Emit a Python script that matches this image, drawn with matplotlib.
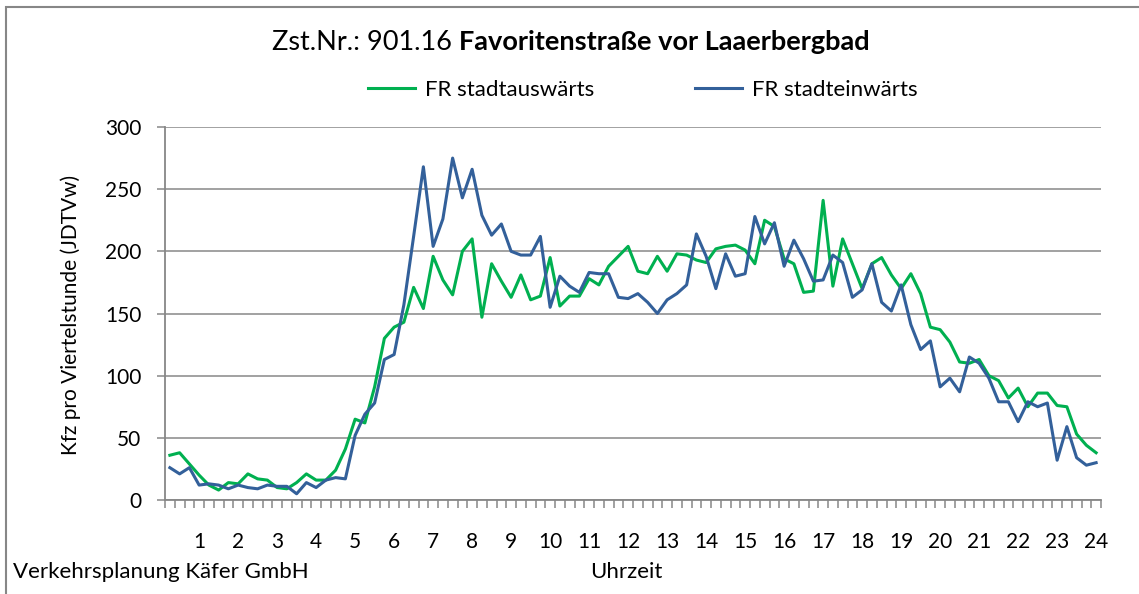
import matplotlib
matplotlib.use("Agg")
import matplotlib.pyplot as plt
from matplotlib.patches import Rectangle

plt.rcParams['font.family'] = ['Lato', 'DejaVu Sans']

# ---- data (Kfz pro Viertelstunde, 96 quarter hours 00:15 .. 24:00) ----
stadtauswaerts = [36, 38, 29, 20, 12, 8, 14, 13, 21, 17, 16, 10, 9, 14, 21, 16,
                  16, 24, 41, 65, 62, 91, 130, 139, 143, 171, 154, 196, 177, 165, 200, 210,
                  147, 190, 176, 163, 181, 161, 164, 195, 156, 164, 164, 178, 173, 188, 196, 204,
                  184, 182, 196, 184, 198, 197, 193, 191, 202, 204, 205, 201, 190, 225, 220, 194,
                  190, 167, 168, 241, 172, 210, 190, 170, 190, 195, 181, 170, 182, 166, 139, 137,
                  127, 111, 110, 113, 100, 96, 82, 90, 75, 86, 86, 76, 75, 53, 44, 38]
stadteinwaerts = [26, 21, 26, 12, 13, 12, 9, 12, 10, 9, 12, 11, 11, 5, 14, 10,
                  16, 18, 17, 52, 69, 78, 113, 117, 157, 212, 268, 204, 226, 275, 243, 266,
                  229, 213, 222, 200, 197, 197, 212, 155, 180, 172, 167, 183, 182, 182, 163, 162,
                  166, 159, 150, 161, 166, 173, 214, 196, 170, 198, 180, 182, 228, 206, 223, 188,
                  209, 194, 176, 177, 197, 191, 163, 169, 190, 159, 152, 173, 141, 121, 128, 91,
                  98, 87, 115, 110, 98, 79, 79, 63, 79, 75, 78, 32, 59, 34, 28, 30]
hour_labels = ['1', '2', '3', '4', '5', '6', '7', '8', '9', '10', '11', '12',
               '13', '14', '15', '16', '17', '18', '19', '20', '21', '22', '23', '24']
series_names = ['FR stadtauswärts', 'FR stadteinwärts']
y_ticks = [0, 50, 100, 150, 200, 250, 300]

GREEN = '#00B050'
BLUE = '#33609A'
GRAY = '#878787'

W, H = 1139, 594
fig = plt.figure(figsize=(W / 100, H / 100), dpi=100)


def fx(x):
    return x / W


def fy(y):
    return 1 - y / H


ax = fig.add_axes([fx(165), fy(500), (1101 - 165) / W, (500 - 127) / H])
n = len(stadtauswaerts)
xs = list(range(n))
l1, = ax.plot(xs, stadtauswaerts, color=GREEN, lw=2.2, label=series_names[0])
l2, = ax.plot(xs, stadteinwaerts, color=BLUE, lw=2.2, label=series_names[1])

ax.set_xlim(-0.5, n - 0.5)
ax.set_ylim(0, 300)
ax.set_yticks(y_ticks)
ax.yaxis.grid(True, color=GRAY, lw=1.1)
ax.set_axisbelow(True)
for s in ['top', 'right']:
    ax.spines[s].set_visible(False)
for s in ['left', 'bottom']:
    ax.spines[s].set_color(GRAY)
    ax.spines[s].set_linewidth(1.3)

ax.set_xticks([i * 4 + 3 for i in range(len(hour_labels))], labels=hour_labels)
ax.set_xticks([i - 0.5 for i in range(n + 1)], minor=True)
ax.tick_params(axis='x', which='major', length=0, pad=23, labelsize=15)
ax.tick_params(axis='x', which='minor', length=5.8, width=1.1, color=GRAY)
ax.tick_params(axis='y', length=5.5, width=1.1, color=GRAY, pad=11.5, labelsize=15)

# title (normal part + bold part, centred around x=570)
renderer = fig.canvas.get_renderer()
TFS = 19.5
t1 = fig.text(0, fy(50), 'Zst.Nr.: 901.16', fontsize=TFS, ha='left', va='baseline')
t2 = fig.text(0, fy(50), 'Favoritenstraße vor Laaerbergbad', fontsize=TFS,
              fontweight='bold', ha='left', va='baseline')
w1 = t1.get_window_extent(renderer).width
w2 = t2.get_window_extent(renderer).width
gap = 7
x0 = 570.5 - (w1 + gap + w2) / 2
t1.set_x(fx(x0))
t2.set_x(fx(x0 + w1 + gap))

# legend
fig.legend(handles=[l1, l2], loc='center left', bbox_to_anchor=(fx(368), fy(90)),
           ncol=2, frameon=False, fontsize=16, handlelength=2.1, handletextpad=0.45,
           columnspacing=4.55, borderpad=0, borderaxespad=0)

# axis texts
fig.text(fx(71), fy(315), 'Kfz pro Viertelstunde (JDTVw)', rotation=90,
         ha='center', va='center', fontsize=15)
fig.text(fx(626), fy(578), 'Uhrzeit', ha='center', va='baseline', fontsize=16)
fig.text(fx(13), fy(578), 'Verkehrsplanung Käfer GmbH', ha='left', va='baseline', fontsize=16)

# outer chart border
fig.add_artist(Rectangle((fx(6), fy(700)), (1300 - 6) / W, (700 - 7) / H,
                         transform=fig.transFigure, fill=False, edgecolor=GRAY, lw=1.5))

fig.savefig('out.png', dpi=100)
